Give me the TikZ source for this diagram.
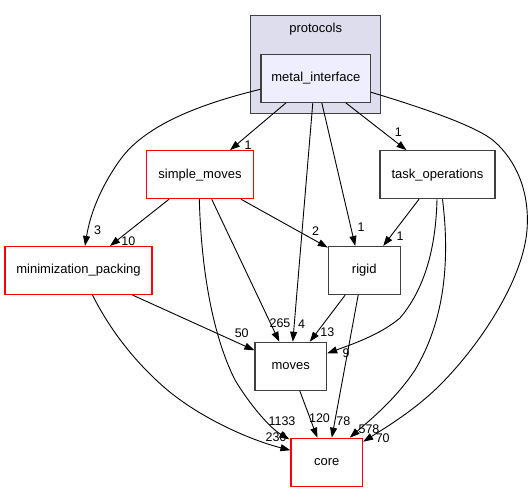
\documentclass[tikz,border=0pt]{standalone}
\usepackage{fontspec}
\setmainfont{Liberation Sans}
\usetikzlibrary{arrows.meta,calc}
\definecolor{clfill}{HTML}{DDDDEE}
\definecolor{mifill}{HTML}{EEEEFF}
\definecolor{bord}{HTML}{404040}
\tikzset{
  box/.style={draw=bord, line width=1.1pt, fill=white, minimum height=48pt, inner sep=0pt, font=\fontsize{13}{15}\selectfont},
  rbox/.style={box, draw=red},
  clusterbox/.style={draw=bord, line width=1.1pt, fill=clfill, inner sep=0pt},
  elab/.style={inner sep=0pt, font=\fontsize{12.5}{14}\selectfont},
  edge/.style={draw=black, line width=0.9pt, -{Triangle[length=10pt,width=7pt]}}
}
\begin{document}
\begin{tikzpicture}[x=1pt,y=-1pt]
\useasboundingbox (0,0) rectangle (532,492);
% cluster
\node[clusterbox, minimum width=130pt, minimum height=97.6pt] (cl) at (315.7,64.5) {};
\node[inner sep=0pt, font=\fontsize{13}{15}\selectfont] (pl) at (315.7,29) {protocols};
% nodes
\node[box, fill=mifill, minimum width=109.7pt] (mi) at (315.8,78.3) {metal\_interface};
\node[rbox, minimum width=106.6pt] (sm) at (200,174.7) {simple\_moves};
\node[box, minimum width=115pt] (to) at (437.5,174.7) {task\_operations};
\node[rbox, minimum width=147pt] (mp) at (78.5,270.5) {minimization\_packing};
\node[box, minimum width=71.7pt] (rg) at (364.2,270.5) {rigid};
\node[box, minimum width=71.7pt] (mv) at (290.8,366.3) {moves};
\node[rbox, minimum width=71.7pt] (co) at (326.8,462.2) {core};
% edge labels
\node[elab] (l1) at (97.7,230) {3};
\node[elab] (l2) at (248,145) {1};
\node[elab] (l3) at (301.7,324) {4};
\node[elab] (l4) at (361,226.7) {1};
\node[elab] (l5) at (398.3,131.7) {1};
\node[elab] (l6) at (382.7,438.3) {70};
\node[elab] (l7) at (128.3,240.7) {10};
\node[elab] (l8) at (280,322.7) {265};
\node[elab] (l9) at (282,421) {1133};
\node[elab] (l10) at (315.7,231) {2};
\node[elab] (l11) at (400,236) {1};
\node[elab] (l12) at (346,353.3) {9};
\node[elab] (l13) at (369,429) {578};
\node[elab] (l14) at (327.3,331.7) {13};
\node[elab] (l15) at (343.3,421) {78};
\node[elab] (l16) at (319.5,418.3) {120};
\node[elab] (l17) at (241.7,333.3) {50};
\node[elab] (l18) at (276,437.3) {236};
% edges from metal_interface
\draw[edge] ($(mi.west)+(0,11)$) .. controls (200,104) and (145,125) .. (120,160) .. controls (100,188) and (90,215) .. ($(mp.north)+(6.5,0)$);
\draw[edge] ($(mi.south)+(-29.8,0)$) -- ($(sm.north)+(30,0)$);
\draw[edge] ($(mi.south)+(-3,0)$) -- ($(mv.north)+(2,0)$);
\draw[edge] ($(mi.south)+(6,0)$) -- ($(rg.north)+(-9,0)$);
\draw[edge] ($(mi.south)+(30,0)$) -- ($(to.north)+(-31,0)$);
\draw[edge] ($(mi.east)+(0,14)$) .. controls (430,110) and (480,128) .. (495,142) .. controls (515,160) and (530,190) .. (527,230) .. controls (523,280) and (480,345) .. (440,385) .. controls (415,410) and (385,428) .. ($(co.north east)+(0,4)$);
% edges from simple_moves
\draw[edge] ($(sm.south)+(-31,0)$) -- ($(mp.north)+(31.5,0)$);
\draw[edge] ($(sm.south)+(11.7,0)$) -- ($(mv.north)+(-11.5,0)$);
\draw[edge] ($(sm.south)+(-0.7,0)$) .. controls (201,260) and (210,330) .. (235,380) .. controls (250,405) and (270,428) .. ($(co.north west)+(-1,1.7)$);
\draw[edge] ($(sm.south)+(41,0)$) -- ($(rg.north west)+(0,1.6)$);
% edges from task_operations
\draw[edge] ($(to.south)+(-18.5,0)$) -- ($(rg.north)+(19,0)$);
\draw[edge] ($(to.south)+(-0.5,0)$) .. controls (436,240) and (428,285) .. (400,318) .. controls (380,335) and (350,345) .. ($(mv.east)+(0,-13)$);
\draw[edge] ($(to.south)+(5,0)$) .. controls (450,260) and (445,320) .. (415,370) .. controls (395,400) and (370,420) .. ($(co.north)+(23,0)$);
% edges from minimization_packing
\draw[edge] ($(mp.south)+(54,0)$) -- ($(mv.west)+(0,-16)$);
\draw[edge] ($(mp.south)+(14,0)$) .. controls (110,330) and (135,362) .. (165,388) .. controls (200,418) and (250,440) .. ($(co.west)+(0,-12)$);
% edges from rigid
\draw[edge] ($(rg.south)+(-19,0)$) -- ($(mv.north)+(19,0)$);
\draw[edge] ($(rg.south)+(-6,0)$) -- ($(co.north)+(5,0)$);
% moves -> core
\draw[edge] ($(mv.south)+(9,0)$) -- ($(co.north)+(-9.5,0)$);
\end{tikzpicture}
\end{document}
